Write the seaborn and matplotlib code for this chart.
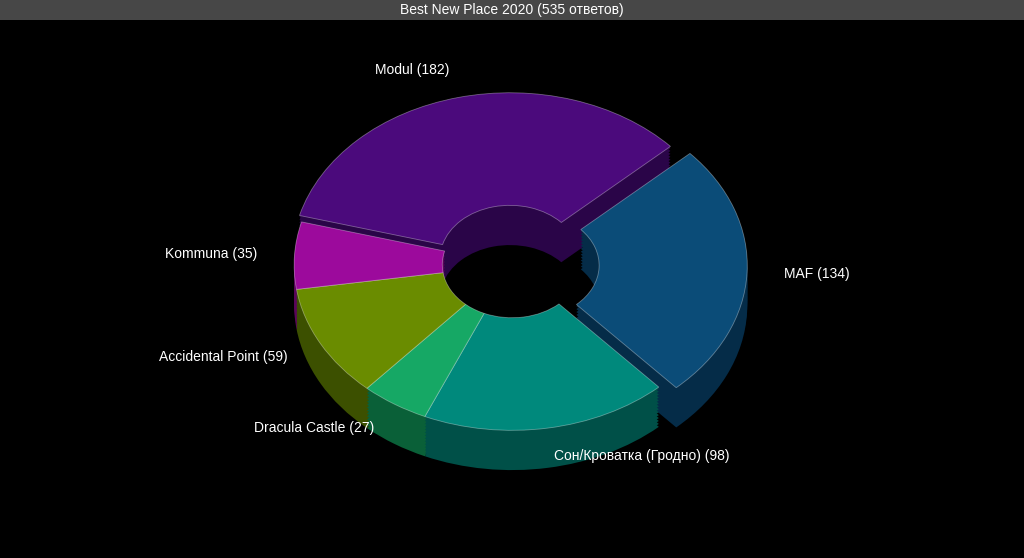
import matplotlib
matplotlib.use("Agg")
import matplotlib.pyplot as plt
import seaborn as sns
import numpy as np

sns.set_theme(style="dark")
plt.rcParams['font.family'] = ['Liberation Sans', 'DejaVu Sans']

labels = ["Modul", "MAF", "Сон/Кроватка (Гродно)", "Dracula Castle", "Accidental Point", "Kommuna"]
values = [182, 134, 98, 27, 59, 35]
top_colors = ["#4b0a7c", "#0b4c78", "#00897c", "#16a865", "#6a8c00", "#9c0a9c"]
side_colors = ["#2a0548", "#052c48", "#005048", "#0a6038", "#3c5000", "#5a055a"]
explode = [0.04, 0.08, 0, 0, 0, 0]
title = "Best New Place 2020 (535 ответов)"

fig = plt.figure(figsize=(10.24, 5.58), dpi=100, facecolor="black")
fig.patches.append(plt.Rectangle((0, 0.965), 1, 0.035, transform=fig.transFigure,
                                 facecolor="#474747", edgecolor="none"))
fig.text(0.5, 0.982, title, ha="center", va="center", color="white", fontsize=10)

ax = fig.add_axes([0, 0, 1, 0.965])
ax.set_facecolor("black")
depth = 0.24
for k in np.linspace(-depth, -0.01, 14):
    ax.pie(values, colors=side_colors, startangle=165, counterclock=False, explode=explode,
           center=(0, k), radius=1, wedgeprops=dict(width=0.68, linewidth=0))
texts = [f"{l} ({v})" for l, v in zip(labels, values)]
ax.pie(values, colors=top_colors, startangle=165, counterclock=False, explode=explode,
       center=(0, 0), radius=1, labels=texts, labeldistance=1.17,
       textprops=dict(color="white", fontsize=10),
       wedgeprops=dict(width=0.68, linewidth=0.6, edgecolor=(1, 1, 1, 0.35)))
ax.set_aspect(0.76, adjustable="box")
ax.set_xlim(-2.35, 2.35)
ax.set_ylim(-1.77, 1.48)
ax.axis("off")
fig.savefig("out.png", dpi=100, facecolor="black")
